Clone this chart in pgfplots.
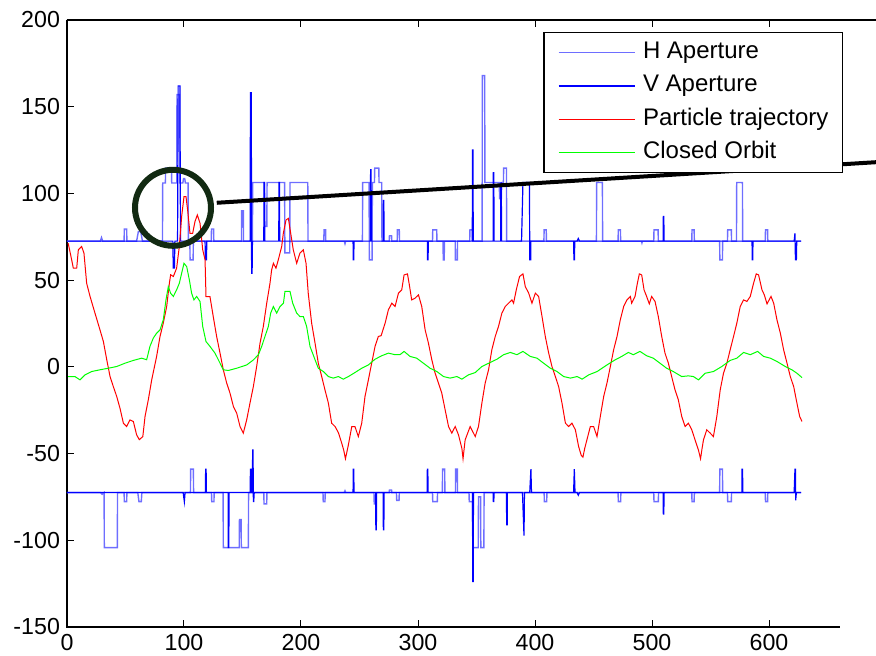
\documentclass[border=0pt]{standalone}
\usepackage{pgfplots}
\pgfplotsset{compat=1.18}
\usepackage{fontspec}
\setmainfont{Liberation Sans}
\definecolor{hblue}{RGB}{110,110,255}
\definecolor{vblue}{RGB}{0,0,255}
\definecolor{ptraj}{RGB}{255,0,0}
\definecolor{corb}{RGB}{0,255,0}
\definecolor{circ}{RGB}{18,42,18}
\begin{document}
\begin{tikzpicture}
\begin{axis}[
  scale only axis, width=404.5pt, height=303.5pt,
  xmin=0, xmax=691.45, ymin=-150, ymax=200,
  xtick={0,100,...,600}, ytick={-150,-100,...,200},
  ytick pos=left, xtick pos=both,
  tick align=inside, major tick length=3.5pt,
  tick style={black, line width=0.5pt},
  axis line style={draw=none},
  /pgf/number format/assume math mode=true,
  ticklabel style={font=\fontsize{11.6}{13}\selectfont},
  clip=false,
  legend cell align=left,
  legend style={at={(rel axis cs:1,1)}, xshift=-16.5pt, yshift=-6pt, anchor=north east,
    draw=black, line width=0.6pt, font=\fontsize{12}{14}\selectfont,
    inner xsep=7pt, inner ysep=4.4pt, row sep=5.6pt, column sep=3.8pt,
    nodes={inner sep=0pt, text height=8.6pt, text depth=2.5pt}},
]
\addlegendimage{legend image code/.code={\draw[hblue, line width=0.7pt] (0pt,0pt) -- (38pt,0pt);}}
\addlegendentry{H Aperture}
\addlegendimage{legend image code/.code={\draw[vblue, line width=0.7pt] (0pt,0pt) -- (38pt,0pt);}}
\addlegendentry{V Aperture}
\addlegendimage{legend image code/.code={\draw[ptraj, line width=0.7pt] (0pt,0pt) -- (38pt,0pt);}}
\addlegendentry{Particle trajectory}
\addlegendimage{legend image code/.code={\draw[corb, line width=0.7pt] (0pt,0pt) -- (38pt,0pt);}}
\addlegendentry{Closed Orbit}
\coordinate (sw) at (rel axis cs:0,0);
\coordinate (ne) at (rel axis cs:1,1);
\draw[black, line width=0.8pt] (rel axis cs:0,1) -- (rel axis cs:0,0) -- (axis cs:660.7,-150);
\draw[black, line width=0.8pt] (rel axis cs:0,1) -- (rel axis cs:1,1);
% H aperture upper
\addplot[hblue, line width=0.7pt, forget plot] coordinates {
(0,72.5)(28.5,72.5)(29.5,74.5)(30.5,72.5)(48.8,72.5)(49,79.5)(51,79.5)(51.2,72.5)(59.5,72.5)(61,78)(63,78)(64.5,72.5)
(81.6,72.5)(81.8,106)(84.1,106)(84.3,114.6)(89.3,114.6)(89.5,106)(93.8,106)(94,157)(96,157)(96.2,106)(99,106)(99.6,108.6)(100.6,108.6)(101.2,106)(103.5,106)(103.7,72.5)
(105,72.5)(105.2,61.7)(107.8,61.7)(108,72.5)(123.3,72.5)(123.5,79.5)(125.3,79.5)(125.5,72.5)(149.1,72.5)(149.3,90)(150.7,90)(150.9,72.5)
(158.5,72.5)(158.7,106.3)(168.8,106.3)(169,81)(170.8,81)(171,106.3)(186,106.3)(186.2,65.7)(190.4,65.7)(190.6,106.3)(205.8,106.3)(206,72.5)
(219.5,72.5)(219.7,79)(221,79)(221.2,72.5)(237,72.5)(237.6,71)(238.2,72.5)
(252.5,72.5)(252.7,106.3)(258.2,106.3)(258.4,61.7)(260.8,61.7)(261,106.3)(262.8,106.3)(263,114.6)(266.5,114.6)(266.7,106.3)(269,106.3)(269.2,72.5)
(275.4,72.5)(275.6,75.6)(277.4,75.6)(277.6,72.5)(282.2,72.5)(282.4,79)(284,79)(284.2,72.5)(312.4,72.5)(312.6,79)(316,79)(316.2,72.5)
(321.4,72.5)(321.6,61.7)(322.4,61.7)(322.6,72.5)(331.8,72.5)(332,61.7)(333.6,61.7)(333.8,72.5)(344.2,72.5)(344.4,79)(346.6,79)(346.8,72.5)
(354.8,72.5)(355,168)(357,168)(357.2,106.3)(369.5,106.3)(369.7,97)(371.3,97)(371.5,106.3)(373,106.3)(373.2,114.6)(375.6,114.6)(375.8,72.5)
(407.6,72.5)(407.8,79)(409.6,79)(409.8,72.5)(452.5,72.5)(452.7,106.3)(457.6,106.3)(457.8,72.5)(471,72.5)(471.2,79)(473,79)(473.2,72.5)
(491,72.5)(491.4,71.5)(491.8,72.5)(501.5,72.5)(501.7,79)(505.2,79)(505.4,72.5)(534,72.5)(534.2,79)(536,79)(536.2,72.5)(557.8,72.5)(558,61.7)(560.2,61.7)(560.4,72.5)
(564.5,72.5)(564.7,79)(567.8,79)(568,72.5)(572.2,72.5)(572.4,106.3)(577.3,106.3)(577.5,72.5)(596.8,72.5)(597,79)(598.8,79)(599,72.5)(627.5,72.5)};
% V aperture upper
\addplot[vblue, line width=0.6pt, forget plot] coordinates {
(0,72.5)(90.5,72.5)(90.8,57)(91.8,57)(92.2,72.5)(94.5,72.5)(95,162)(96.5,162)(97,72.5)
(118,72.5)(118.3,61.7)(119.2,61.7)(119.5,72.5)(156.5,72.5)(156.8,158)(157.5,158)(157.8,54)(158.2,54)(158.5,72.5)
(168.2,72.5)(168.4,106.3)(168.8,106.3)(169,72.5)(181,72.5)(181.2,106.3)(181.6,106.3)(181.8,72.5)
(244.5,72.5)(244.7,61.7)(245.1,61.7)(245.3,72.5)(259.3,72.5)(259.5,113.6)(259.9,113.6)(260.1,72.5)(270.2,72.5)(270.4,96)(270.8,96)(271,72.5)
(308,72.5)(308.2,61.7)(308.6,61.7)(308.8,72.5)(346.4,72.5)(346.6,125)(347,125)(347.2,72.5)(364.2,72.5)(364.4,112)(364.8,112)(365,72.5)
(370.6,72.5)(370.8,106)(371.2,106)(371.4,72.5)(388.5,72.5)(389.7,106.3)(395.3,106.3)(395.5,61.7)(396.3,61.7)(396.5,72.5)
(433,72.5)(433.3,61.7)(433.7,61.7)(434,72.5)(436,72.5)(437,74)(438,72.5)(509.5,72.5)(509.7,86.7)(510.1,86.7)(510.3,72.5)
(585.5,72.5)(585.7,61.7)(586.1,61.7)(586.3,72.5)(621.5,72.5)(622.2,77)(622.6,61.7)(623.4,61.7)(623.7,72.5)(627.5,72.5)};
% particle trajectory
\addplot[ptraj, line width=0.5pt, forget plot] coordinates {
(1,71.3)(4,61.7)(5.4,56.9)(8.3,56.9)(9.7,67.5)(12.5,69.4)(14.5,65.6)(16.8,48.2)(19.7,40.6)(23.9,31)(28.2,21.3)(31.1,14.6)(34,4)(36.8,-5.6)(39.6,-11.4)(42.5,-17.1)(45.3,-23.9)(48.2,-32.5)(51,-34.4)(53.8,-30.6)(56.7,-31.5)(59.5,-39.2)(61.8,-42)(64.8,-40.2)(66.7,-28.6)(69.5,-19)(72.4,-7.5)(76.6,6)(79.5,17.5)(82.3,25.2)(85.2,34.8)(87.5,48.2)(88.6,53.1)(90.9,52.1)(93.7,56.9)(96,69.4)(98,86.7)(100,98.2)(101.7,98.2)(103.1,90.5)(105.1,77)(107.4,77)(109.4,83.8)(111.4,87.6)(113.7,82.8)(116,67.5)(118,61.7)(118.8,40.5)(122.2,40.5)(125,29)(127.9,17.5)(130.8,7.9)(133.6,-1.7)(136.5,-9.4)(139.3,-15.1)(142.2,-22.8)(145,-26.6)(147.9,-34.4)(150.7,-38.2)(153.6,-30.5)(156.4,-20.9)(159.3,-11.3)(162.1,0.2)(165,13.7)(167.8,23.3)(170.7,36.7)(173.5,48.2)(174.9,55.9)(176.4,59.7)(178.6,56.9)(180.6,61.7)(183.5,69.4)(184.9,77)(187.2,84.7)(189.2,85.6)(191.2,77)(193.4,67.5)(196.3,59.7)(199.1,65.6)(202,67.5)(204.3,59.7)(206.2,42.4)(209.1,25.2)(212,13.7)(214.8,2.1)(217.7,-5.6)(220.5,-13.3)(223.4,-20.9)(226.2,-32.5)(229.1,-34.4)(232,-38)(234.8,-44)(236.5,-48)(238,-53)(240.5,-45)(243.4,-34.4)(246.1,-34.4)(249,-40.2)(251.9,-32.5)(254.7,-17.1)(257.6,-7.5)(260.4,2.1)(263.3,11.8)(266.1,17.5)(268.5,18)(271.9,25.2)(274.7,32.9)(277.6,36.7)(280.4,34.8)(283.3,42.5)(286.1,44.4)(288.1,53)(291,53.6)(292.6,47.3)(294.6,38.6)(297.5,39.6)(300.4,41.5)(303.2,34.8)(306.1,21.3)(308.9,13.7)(311.8,4.1)(314.6,-3.6)(317.5,-9.4)(320.3,-15.1)(323.2,-24.8)(326.1,-34.4)(328.9,-38.2)(331.8,-34.4)(334.6,-39.2)(337.5,-47)(338.5,-53)(340.3,-42.1)(344.6,-34.4)(348.9,-40.2)(351.7,-34.4)(354.6,-20.9)(357.4,-9.4)(360.3,-1.7)(363.1,9.8)(366,17.5)(368.8,23.3)(371.7,31)(374.6,34.8)(377.4,36.7)(380.3,38.6)(381.7,36.7)(384,44.4)(386.8,52.1)(389.7,53.6)(391.7,46.3)(394.6,42.5)(397.4,36.7)(400.3,42.5)(403.1,40.6)(406,29)(408.8,17.5)(411.7,7.9)(414.5,0.2)(417.4,-5.6)(420.2,-11.4)(423.1,-21)(426,-32.5)(428.8,-34.4)(431.6,-32.5)(434.5,-36.3)(437.3,-46)(439.5,-51)(441,-52)(442.5,-47)(444.4,-42)(447.3,-34.4)(450.1,-34.4)(453,-40.2)(455.8,-28.7)(458.7,-17.1)(461.5,-9.4)(464.4,0.2)(467.2,9.8)(470.1,17.5)(472.9,27.1)(475.8,34.8)(478.6,38.6)(481.5,40.6)(482.6,36.7)(485.5,40.6)(487.5,48.2)(489.2,53.6)(491.2,53)(493.2,44.4)(495.4,40.6)(497.7,36.3)(499.7,40.6)(502.6,37.7)(505.4,29)(508.3,17.5)(511.1,7.9)(514,2.1)(516.8,-5.6)(519.7,-13.3)(522.5,-19)(525.4,-28.6)(528.3,-34.4)(531.1,-32.5)(534,-36.3)(536.8,-42.1)(539.7,-48)(541.5,-53)(542.8,-47)(544,-42.1)(546.8,-36.3)(549.7,-38.2)(552.5,-40.2)(555.4,-28.6)(558.3,-13.3)(561.1,-3.7)(564,2.1)(566.8,9.8)(569.7,17.5)(572.5,25.2)(575.4,34.8)(578.3,38.6)(581.1,37.7)(584,40.6)(586.8,48.2)(589.1,53.6)(591.1,53)(594,44.4)(596,41.5)(598.3,36.3)(601.7,40.6)(604,36.7)(606.8,27.1)(609.7,19.4)(612.5,9.8)(615.4,2.1)(618.2,-5.6)(621.1,-11.4)(623.9,-21)(626.2,-28.6)(628.2,-31.5)};
% closed orbit
\addplot[corb, line width=0.5pt, forget plot] coordinates {
(1,-5.6)(6.8,-5.6)(11.1,-7.5)(15.4,-4.6)(21.1,-2.7)(28.2,-1.7)(35.3,-0.8)(42.5,0.2)(49.6,2.1)(56.7,3.7)(63.8,5)(68.1,4.1)(70.9,11.8)(73.8,16.6)(76.6,19.4)(79.5,21.3)(82.3,27.1)(84.6,38.6)(86.6,46.3)(88.6,42.4)(90.9,40.6)(93.7,44.4)(96,48.2)(98,54)(100,59.7)(102.3,57.8)(104.6,50.1)(106.5,42.5)(108.5,38.6)(110.8,40.6)(113.7,37.7)(116,23.3)(118.8,14.6)(122.2,11.8)(126.5,7.9)(130.8,2.1)(133.6,-1.7)(137.9,-2.1)(145,-0.8)(153.6,1.1)(159.3,4)(163.6,7)(166.4,11.8)(169.2,17.5)(172.1,23.3)(174.1,31)(176.4,34.8)(179.2,31)(182.1,34.8)(185,36.7)(186.3,43.5)(190.6,43.5)(192.9,36.7)(196.3,31)(199.1,29)(202,29)(204.8,23.3)(207.7,11.8)(212,4.1)(214.8,-0.8)(219.1,-2.7)(223.4,-5.6)(227.6,-6.5)(231.9,-5.6)(236.2,-7.1)(240.5,-5.6)(246.1,-3.3)(251.9,-0.8)(257.6,1.1)(263.3,4.4)(269,6.4)(274.7,7.9)(280.4,7)(284.6,7)(288.1,8.9)(293.2,6)(298.9,5)(304.6,2.1)(310.3,-0.8)(316.1,-2.7)(321.8,-5.6)(327.4,-6.5)(333.2,-5.6)(337.5,-7.1)(343.2,-4.6)(348.9,-3.3)(354.6,0.2)(361.7,2.5)(367.5,4.4)(373.2,7)(378.9,8.3)(384.6,7)(389.7,8.9)(396,6)(401.7,5)(407.4,2.1)(413.1,-0.8)(418.8,-2.7)(424.5,-5.6)(430.3,-6.5)(436,-5.6)(440.3,-7.1)(446,-4.6)(453.1,-2.7)(461.5,1.1)(468.4,4)(474.1,6)(479.8,8.3)(484,7)(489.7,8.9)(495.4,6.4)(501.1,5)(506.8,2.1)(512.5,-0.8)(518.2,-2.7)(525.4,-5.6)(531.1,-5.2)(535.4,-5.6)(539.7,-7.5)(545.4,-3.7)(552.5,-2.7)(559.7,0.2)(566.8,3.7)(572.5,5)(578.3,8.3)(584,7)(590.3,8.9)(595.4,6)(601.1,5)(606.8,3.1)(613.9,0.2)(619.6,-1.7)(623.9,-3.7)(628.2,-6.2)};
% H aperture lower
\addplot[hblue, line width=0.7pt, forget plot] coordinates {
(0,-72.5)(28.5,-72.5)(30,-73.5)(31.7,-72.5)(31.9,-104.2)(43,-104.2)(43.2,-72.5)(48.8,-72.5)(49,-77.7)(51,-77.7)(51.2,-72.5)(60.5,-72.5)(61.5,-77.7)(63.5,-77.7)(64,-72.5)
(105.5,-72.5)(105.7,-59)(108,-59)(108.2,-72.5)(123.5,-72.5)(123.7,-77.7)(125.6,-77.7)(125.8,-72.5)(133.4,-72.5)(133.6,-104.2)(147.2,-104.2)(147.4,-88)(148.8,-88)(149,-104.2)(155,-104.2)(155.2,-72.5)
(168.2,-72.5)(168.4,-79)(170.7,-79)(170.9,-72.5)(218.8,-72.5)(219,-77.7)(220.5,-77.7)(220.7,-72.5)(237,-72.5)(237.6,-71.5)(238.2,-72.5)(262.4,-72.5)(262.6,-79)(264,-79)(264.2,-72.5)
(275.4,-72.5)(275.6,-71)(277.4,-71)(277.6,-72.5)(281.6,-72.5)(281.8,-77)(283.8,-77)(284,-72.5)(312.4,-72.5)(312.6,-77.7)(316.5,-77.7)(316.7,-72.5)(320.8,-72.5)(321,-59)(322.8,-59)(323,-72.5)
(332,-72.5)(332.2,-59)(333.6,-59)(333.8,-72.5)(343.6,-72.5)(343.8,-77.7)(346.6,-77.7)(346.8,-104.2)(351.5,-104.2)(351.7,-75)(353.5,-75)(353.7,-104.2)(356.3,-104.2)(356.5,-72.5)
(407.8,-72.5)(408,-77.7)(410,-77.7)(410.2,-72.5)(471,-72.5)(471.2,-77.7)(473.2,-77.7)(473.4,-72.5)(501.5,-72.5)(501.7,-77.7)(505.4,-77.7)(505.6,-72.5)(534,-72.5)(534.2,-77.7)(536,-77.7)(536.2,-72.5)
(557.8,-72.5)(558,-59)(560.2,-59)(560.4,-72.5)(564.5,-72.5)(564.7,-77.7)(567.8,-77.7)(568,-72.5)(596.8,-72.5)(597,-77.7)(598.8,-77.7)(599,-72.5)(627.5,-72.5)};
% V aperture lower
\addplot[vblue, line width=0.6pt, forget plot] coordinates {
(0,-72.5)(99.3,-72.5)(100.3,-77.7)(100.9,-72.5)(118.3,-72.5)(118.5,-59)(118.9,-59)(119.1,-72.5)(137.7,-72.5)(137.9,-104.2)(138.3,-104.2)(138.5,-72.5)
(156.5,-72.5)(156.8,-59)(157.2,-59)(157.6,-72.5)(158.4,-72.5)(158.7,-48)(159,-48)(159.3,-77.7)(159.6,-77.7)(160,-72.5)
(244.5,-72.5)(244.7,-59)(245.1,-59)(245.3,-72.5)(263.8,-72.5)(264,-94)(264.4,-94)(264.6,-72.5)(270.2,-72.5)(270.4,-94)(270.8,-94)(271,-72.5)
(307.8,-72.5)(308,-59)(308.4,-59)(308.6,-72.5)(346.6,-72.5)(346.8,-123.8)(347.2,-123.8)(347.4,-72.5)(364.2,-72.5)(364.4,-77.7)(364.8,-77.7)(365,-72.5)
(375.6,-72.5)(375.8,-91)(376.2,-91)(376.4,-72.5)(389.3,-72.5)(390.6,-97.3)(391,-72.5)(395.5,-72.5)(396.5,-59)(397,-72.5)
(433,-72.5)(433.6,-59)(434.2,-72.5)(436,-72.5)(437,-74)(438,-72.5)(509.5,-72.5)(509.7,-84.8)(510.1,-84.8)(510.3,-72.5)
(576.8,-72.5)(577,-59)(577.4,-59)(577.6,-72.5)(621.5,-72.5)(622.2,-59)(622.6,-59)(622.8,-77)(623.4,-72.5)(627.5,-72.5)};
% annotations
\draw[black, line width=2pt] (axis cs:128,94.6) -- (axis cs:691.45,118);
\draw[circ, line width=3pt] (axis cs:90.6,91.7) circle[radius=19pt];
\end{axis}
\pgfresetboundingbox
\path[use as bounding box] ([xshift=-33.5pt,yshift=-14.5pt]sw) rectangle ([yshift=10pt]ne);
\end{tikzpicture}
\end{document}
